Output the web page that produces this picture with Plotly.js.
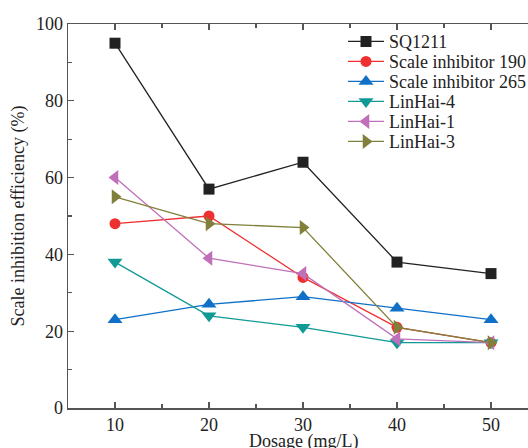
<!DOCTYPE html>
<html><head><meta charset="utf-8">
<script src="https://cdn.plot.ly/plotly-3.0.1.min.js"></script>
<style>html,body{margin:0;padding:0;overflow:hidden;width:528px;height:448px;background:#fff}</style>
</head><body><div id="chart"></div>
<script>
const dosage = [10, 20, 30, 40, 50];
const sq1211 = [95, 57, 64, 38, 35];
const inhibitor190 = [48, 50, 34, 21, 17];
const inhibitor265 = [23, 27, 29, 26, 23];
const linhai4 = [38, 24, 21, 17, 17];
const linhai1 = [60, 39, 35, 18, 17];
const linhai3 = [55, 48, 47, 21, 17];
const seriesNames = ["SQ1211", "Scale inhibitor 190", "Scale inhibitor 265", "LinHai-4", "LinHai-1", "LinHai-3"];
const xTitle = "Dosage (mg/L)";
const yTitle = "Scale inhibition efficiency (%)";

const seriesData = [sq1211, inhibitor190, inhibitor265, linhai4, linhai1, linhai3];
const colors = ["#222222", "#EE3030", "#1070C8", "#109A96", "#C070B8", "#80803A"];
const symbols = ["square", "circle", "triangle-up", "triangle-down", "triangle-left", "triangle-right"];
const sizes = [11, 11, 13, 13, 13, 13];
const FONT = "'Liberation Serif', 'DejaVu Serif', serif";

const W = 600, H = 460, M = {l: 68, r: 62, t: 24, b: 52};
const plotH = H - M.t - M.b;
const plotW = W - M.l - M.r;
const legendIds = ["legend", "legend2", "legend3", "legend4", "legend5", "legend6"];

const traces = seriesData.map((vals, i) => ({
  x: dosage, y: vals, name: seriesNames[i], type: "scatter", mode: "lines+markers",
  legend: legendIds[i],
  line: {color: colors[i], width: 1.3},
  marker: {color: colors[i], symbol: symbols[i], size: sizes[i], line: {width: 0}}
}));

const axisCommon = {
  showgrid: false, zeroline: false, showline: true, linecolor: "#555", linewidth: 1.5,
  ticks: "inside", ticklen: 6, tickwidth: 1.2, tickcolor: "#555", mirror: "ticks",
  tickfont: {family: FONT, size: 18, color: "#222"}
};

const layout = {
  width: W, height: H,
  font: {family: FONT},
  margin: M,
  paper_bgcolor: "#fff", plot_bgcolor: "#fff",
  showlegend: true,
  xaxis: Object.assign({}, axisCommon, {
    range: [5, 55], tickvals: [10, 20, 30, 40, 50],
    minor: {tickvals: [15, 25, 35, 45], ticks: "inside", ticklen: 4, tickcolor: "#555", tickwidth: 1.2}
  }),
  yaxis: Object.assign({}, axisCommon, {
    range: [0, 100], tickvals: [0, 20, 40, 60, 80, 100],
    minor: {tickvals: [10, 30, 50, 70, 90], ticks: "inside", ticklen: 4, tickcolor: "#555", tickwidth: 1.2},
    title: {text: yTitle, standoff: 6, font: {family: FONT, size: 18, color: "#222"}}
  }),
  annotations: [{
    text: xTitle, xref: "paper", yref: "paper", x: 0.5, y: (H - M.b - 441) / plotH,
    xanchor: "center", yanchor: "middle", showarrow: false,
    font: {family: FONT, size: 18, color: "#222"}
  }]
};

// one single-entry legend per series so that rows sit 20 px apart like the reference
legendIds.forEach((id, i) => {
  const yc = 41.7 + 20 * i;
  layout[id] = {
    x: (343 - M.l) / plotW, y: (H - M.b - yc) / plotH, xanchor: "left", yanchor: "middle",
    bgcolor: "rgba(0,0,0,0)", borderwidth: 0, itemwidth: 36,
    font: {family: FONT, size: 18, color: "#222"}
  };
});

Plotly.newPlot("chart", traces, layout, {displayModeBar: false, staticPlot: true});
</script></body></html>
